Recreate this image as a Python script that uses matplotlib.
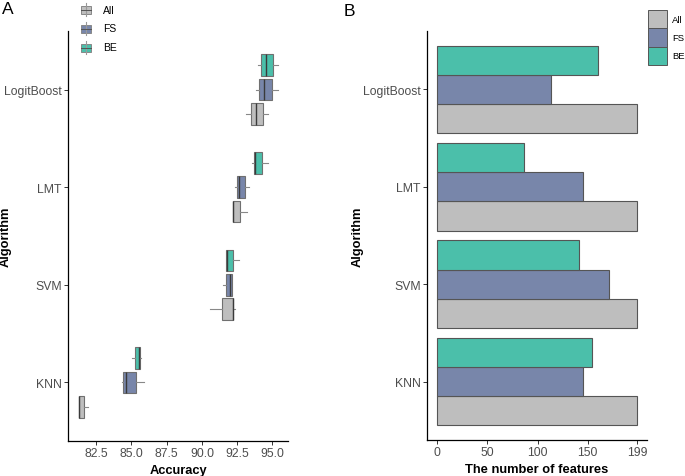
import matplotlib

matplotlib.use('Agg')

import matplotlib.pyplot as plt
from matplotlib.patches import Rectangle
from matplotlib.lines import Line2D

plt.rcParams.update({
    'font.family': ['Liberation Sans', 'DejaVu Sans'],
    'font.size': 9,
    'axes.spines.top': False,
    'axes.spines.right': False,
    'axes.linewidth': 0.9,
    'xtick.color': '#333333',
    'ytick.color': '#333333',
    'xtick.labelcolor': '#4d4d4d',
    'ytick.labelcolor': '#4d4d4d',
    'xtick.labelsize': 8.8,
    'ytick.labelsize': 8.8,
    'xtick.major.size': 3,
    'ytick.major.size': 3,
    'xtick.major.width': 0.7,
    'ytick.major.width': 0.7,
    'xtick.major.pad': 1.5,
    'ytick.major.pad': 1.5,
})

# bottom to top, as on the y axis
algorithms = ['KNN', 'SVM', 'LMT', 'LogitBoost']
methods = ['All', 'FS', 'BE']
colors = {'All': '#bebebe', 'FS': '#7886aa', 'BE': '#4bbfaa'}

# accuracy box stats per algorithm: (whislo, q1, med, q3, whishi)
acc_all = [(81.25, 81.25, 81.30, 81.62, 81.90),
           (90.60, 91.41, 92.17, 92.22, 92.36),
           (92.17, 92.17, 92.20, 92.71, 93.18),
           (93.10, 93.46, 93.80, 94.33, 94.70)]
acc_fs = [(84.30, 84.43, 84.64, 85.30, 85.90),
          (91.50, 91.73, 92.00, 92.13, 92.13),
          (92.36, 92.48, 92.64, 93.02, 93.35),
          (93.80, 94.03, 94.39, 94.93, 95.40)]
acc_be = [(85.04, 85.26, 85.50, 85.57, 85.66),
          (91.73, 91.73, 91.80, 92.20, 92.63),
          (93.54, 93.67, 93.79, 94.27, 94.70),
          (93.94, 94.17, 94.55, 95.02, 95.40)]

# number of selected features
n_all = [199, 199, 199, 199]
n_fs = [145, 171, 145, 113]
n_be = [154, 141, 87, 160]

acc = {'All': acc_all, 'FS': acc_fs, 'BE': acc_be}
nfeat = {'All': n_all, 'FS': n_fs, 'BE': n_be}
offsets = {'All': -0.25, 'FS': 0.0, 'BE': 0.25}

W, H = 685, 477
fig = plt.figure(figsize=(6.85, 4.77), dpi=100)

def px_axes(x0, y0, x1, y1):
    return fig.add_axes([x0 / W, 1 - y1 / H, (x1 - x0) / W, (y1 - y0) / H])

# ---- panel A: accuracy boxplots
axA = px_axes(68, 32, 288, 442)
for m in methods:
    stats = []
    for s in acc[m]:
        lo, q1, med, q3, hi = s
        stats.append({'whislo': lo, 'q1': q1, 'med': med, 'q3': q3, 'whishi': hi, 'fliers': []})
    pos = [i + 1 + offsets[m] for i in range(len(algorithms))]
    axA.bxp(stats, positions=pos, widths=0.22, vert=False, patch_artist=True,
            showcaps=False, manage_ticks=False,
            boxprops=dict(facecolor=colors[m], edgecolor='#707070', linewidth=0.8),
            medianprops=dict(color='#3a3a3a', linewidth=1.0),
            whiskerprops=dict(color='#888888', linewidth=0.8))
axA.set_xlim(80.5, 96.1)
axA.set_ylim(0.4, 4.6)
axA.set_xticks([82.5, 85.0, 87.5, 90.0, 92.5, 95.0])
axA.set_xticklabels(['82.5', '85.0', '87.5', '90.0', '92.5', '95.0'])
axA.set_yticks(range(1, 5))
axA.set_yticklabels(algorithms)
axA.set_xlabel('Accuracy', fontweight='bold', fontsize=9.3)
axA.set_ylabel('Algorithm', fontweight='bold', fontsize=9.3)
axA.xaxis.set_label_coords(0.5, -0.057)
axA.yaxis.set_label_coords(-0.255, 0.5)

# ---- panel B: feature counts
axB = px_axes(427, 32, 647, 441)
for m in methods:
    pos = [i + 1 + offsets[m] * 1.2 for i in range(len(algorithms))]
    axB.barh(pos, nfeat[m], height=0.3, color=colors[m], edgecolor='#555555', linewidth=0.8)
axB.set_xlim(-9.95, 208.95)
axB.set_ylim(0.4, 4.6)
axB.set_xticks([0, 50, 100, 150, 199])
axB.set_yticks(range(1, 5))
axB.set_yticklabels(algorithms)
axB.set_xlabel('The number of features', fontweight='bold', fontsize=9.3)
axB.set_ylabel('Algorithm', fontweight='bold', fontsize=9.3)
axB.xaxis.set_label_coords(0.5, -0.057)
axB.yaxis.set_label_coords(-0.29, 0.5)

# ---- legends drawn in pixel positions
def fx(x):
    return x / W

def fy(y):
    return 1 - y / H

for k, m in enumerate(methods):
    cy = 10.5 + 19 * k
    fig.add_artist(Line2D([fx(86), fx(86)], [fy(cy - 6.5), fy(cy + 6.5)], color='#999999', lw=0.8))
    fig.add_artist(Rectangle((fx(80.5), fy(cy + 4)), 10.5 / W, 8 / H,
                             facecolor=colors[m], edgecolor='#888888', lw=0.7))
    fig.add_artist(Line2D([fx(80.5), fx(91)], [fy(cy), fy(cy)], color='#555555', lw=0.7))
    fig.text(fx(103), fy(cy), m, fontsize=7.5, va='center', ha='left')

for k, m in enumerate(methods):
    top = 11 + 18.3 * k
    fig.add_artist(Rectangle((fx(648.3), fy(top + 18.3)), 18.3 / W, 18.3 / H,
                             facecolor=colors[m], edgecolor='#555555', lw=0.7))
    fig.text(fx(672), fy(top + 9.2), m, fontsize=6.8, va='center', ha='left')

fig.text(fx(2), fy(10), 'A', fontsize=12.5, va='center', ha='left')
fig.text(fx(344), fy(12), 'B', fontsize=12.5, va='center', ha='left')

fig.savefig('out.png', dpi=100)
